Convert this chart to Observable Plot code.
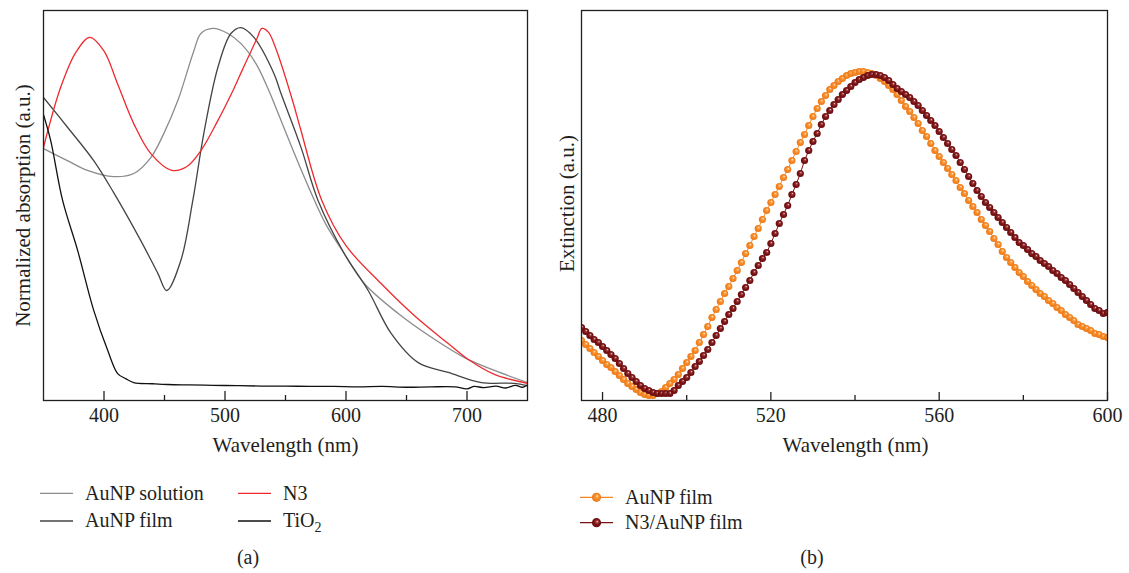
<!DOCTYPE html>
<html><head><meta charset="utf-8">
<script src="https://cdn.jsdelivr.net/npm/d3@7"></script>
<script src="https://cdn.jsdelivr.net/npm/@observablehq/plot@0.6"></script>
<style>
body{margin:0;background:#fff;}
#wrap{position:relative;width:1129px;height:573px;overflow:hidden;background:#fff;font-family:"Liberation Serif",serif;}
#pa{position:absolute;left:0;top:0;}
#pb{position:absolute;left:560px;top:0;}
</style></head>
<body><div id="wrap"><div id="pa"></div><div id="pb"></div></div>
<script>
// ---------- Panel (a) data: normalized absorption vs wavelength ----------
const solWl  = [350,369.7,386.3,408,424.6,438.7,449.5,461,474.3,480.1,490,502.4,513.2,525.6,535.5,546.3,558.7,571.1,583.5,598.5,615.1,643.2,670.6,697.9,722.7,750];
const solAbs = [0.646,0.615,0.590,0.574,0.582,0.623,0.685,0.769,0.897,0.941,0.954,0.941,0.915,0.864,0.800,0.718,0.623,0.533,0.451,0.377,0.300,0.223,0.162,0.110,0.077,0.046];

const filmWl  = [350,370,391.5,408,430.4,444.5,451.9,463.5,473.4,482.5,494.1,504.9,513.2,523.9,540.5,546.3,562.8,576.9,598.5,618.3,637.3,659.7,684.5,711.8,739.1,750];
const filmAbs = [0.777,0.700,0.615,0.533,0.410,0.326,0.282,0.359,0.513,0.685,0.854,0.941,0.956,0.931,0.838,0.787,0.649,0.513,0.377,0.282,0.172,0.097,0.072,0.046,0.044,0.038];

const n3Wl  = [350,364.2,376.6,388.2,399.8,411.1,424.6,438.7,456,468.5,480.1,493.3,507.4,514.8,521.4,526.4,530.5,536,540.5,545.5,556.3,562.1,580,600,629,656.4,684.5,701.1,722.6,750];
const n3Abs = [0.649,0.803,0.892,0.931,0.897,0.813,0.710,0.633,0.590,0.600,0.641,0.713,0.800,0.851,0.895,0.928,0.954,0.944,0.915,0.872,0.764,0.700,0.513,0.397,0.300,0.218,0.146,0.105,0.067,0.044];

const tioWl  = [350,355.9,365.8,378.2,391.5,403.1,411.3,418,424.6,440,452.7,470,490,510,530,550,570,590,610,630,650,670,690,700,706,714,724,732,740,746,750];
const tioAbs = [0.733,0.667,0.513,0.385,0.231,0.128,0.069,0.056,0.046,0.043,0.041,0.040,0.039,0.038,0.037,0.037,0.036,0.036,0.035,0.036,0.034,0.035,0.035,0.030,0.036,0.033,0.037,0.032,0.039,0.034,0.040];

const seriesA = ["AuNP solution","AuNP film","N3","TiO2"];
const colorsA = ["#8c8c8c","#444444","#ee2a2e","#111111"];
const majorA = [400,500,600,700];
const minorA = [450,550,650];

// ---------- Panel (b) data: extinction (a.u.) every 1 nm ----------
const wlB = d3.range(475, 601, 1);
const aunpFilm = [60,56,52,48,44,40,36,33,29,25,
21,17,14,11,8,6,5,5,7,9,
13,17,21,26,32,38,44,50,58,66,
74,83,91,99,107,114,122,130,138,147,
155,164,172,181,190,198,206,214,223,231,
240,249,258,266,275,284,292,299,305,311,
315,319,322,325,327,328,329,329,328,327,
325,322,319,315,311,306,300,294,289,283,
277,270,264,257,250,244,238,232,226,220,
213,207,200,194,188,181,175,169,162,156,
149,143,138,133,128,124,119,115,111,107,
104,100,97,93,90,86,83,80,76,74,
72,70,67,66,64,63];
const n3AunpFilm = [73,69,65,61,58,54,50,46,42,37,
32,27,23,19,15,12,10,8,7,7,
7,7,10,15,19,23,28,34,39,45,
51,58,65,72,79,86,92,99,106,113,
120,128,135,142,148,157,167,177,186,195,
206,216,227,240,250,259,267,276,284,290,
296,301,306,310,314,318,321,323,325,326,
326,325,323,320,316,312,309,306,303,299,
295,290,285,280,275,269,263,257,251,245,
238,231,224,217,210,204,198,193,188,183,
178,173,168,163,158,155,151,147,144,140,
137,134,130,127,123,120,116,112,108,104,
100,96,92,90,87,88];
const seriesB = ["AuNP film","N3/AuNP film"];
const colorsB = ["#f5861f","#7b1214"];
const majorB = [480,520,560,600];
const minorB = [500,540,580];

const ink = "#231f20";
const font = "'Liberation Serif', serif";

// ---------- build tables ----------
const rowsA = [
  ...solWl.map((w,i)=>({series:seriesA[0], wl:w, v:solAbs[i]})),
  ...filmWl.map((w,i)=>({series:seriesA[1], wl:w, v:filmAbs[i]})),
  ...n3Wl.map((w,i)=>({series:seriesA[2], wl:w, v:n3Abs[i]})),
  ...tioWl.map((w,i)=>({series:seriesA[3], wl:w, v:tioAbs[i]}))
];
const rowsB0 = wlB.map((w,i)=>({series:seriesB[0], wl:w, v:aunpFilm[i]}));
const rowsB1 = wlB.map((w,i)=>({series:seriesB[1], wl:w, v:n3AunpFilm[i]}));

// ---------- Panel (a) ----------
const plotA = Plot.plot({
  width: 560, height: 460,
  marginLeft: 43, marginRight: 33, marginTop: 10, marginBottom: 60,
  x: {domain: [350, 750]},
  y: {domain: [0, 1], axis: null},
  color: {domain: seriesA, range: colorsA},
  style: {fontFamily: font, fontSize: "20px", color: ink, background: "transparent", overflow: "visible"},
  marks: [
    Plot.line(rowsA, {x: "wl", y: "v", z: "series", stroke: "series", curve: "catmull-rom", strokeWidth: 1.3, clip: true}),
    Plot.frame({stroke: ink, strokeWidth: 1.3}),
    Plot.tickX(majorA, {x: d => d, insetTop: 381, stroke: ink, strokeWidth: 1.3}),
    Plot.tickX(minorA, {x: d => d, insetTop: 385, stroke: ink, strokeWidth: 1.3}),
    Plot.axisX({ticks: majorA, tickSize: 0, tickPadding: 7.5, label: null, fontSize: 20, tickFormat: d => String(d)}),
    Plot.text(["Wavelength (nm)"], {frameAnchor: "bottom", lineAnchor: "middle", dy: 45, text: d => d, fontSize: 21, fill: ink}),
    Plot.text(["Normalized absorption (a.u.)"], {frameAnchor: "left", textAnchor: "middle", lineAnchor: "middle", dx: -20.5, rotate: -90, text: d => d, fontSize: 21, fill: ink})
  ]
});
document.getElementById("pa").appendChild(plotA);

// ---------- Panel (b) ----------
const plotB = Plot.plot({
  width: 569, height: 460,
  marginLeft: 21, marginRight: 22, marginTop: 10, marginBottom: 60,
  x: {domain: [475, 600]},
  y: {domain: [0, 390], axis: null},
  style: {fontFamily: font, fontSize: "20px", color: ink, background: "transparent", overflow: "visible"},
  marks: [
    Plot.line(rowsB0, {x: "wl", y: "v", stroke: colorsB[0], strokeWidth: 1, clip: true}),
    Plot.dot(rowsB0, {x: "wl", y: "v", r: 3.6, fill: "url(#ballO)", stroke: "none", clip: true}),
    Plot.line(rowsB1, {x: "wl", y: "v", stroke: colorsB[1], strokeWidth: 1, clip: true}),
    Plot.dot(rowsB1, {x: "wl", y: "v", r: 3.6, fill: "url(#ballR)", stroke: "none", clip: true}),
    Plot.frame({stroke: ink, strokeWidth: 1.3}),
    Plot.tickX(majorB, {x: d => d, insetTop: 382, stroke: ink, strokeWidth: 1.3}),
    Plot.tickX(minorB, {x: d => d, insetTop: 385, stroke: ink, strokeWidth: 1.3}),
    Plot.axisX({ticks: majorB, tickSize: 0, tickPadding: 7.5, label: null, fontSize: 20, tickFormat: d => String(d)}),
    Plot.text(["Wavelength (nm)"], {frameAnchor: "bottom", lineAnchor: "middle", dy: 45, dx: 11, text: d => d, fontSize: 21, fill: ink}),
    Plot.text(["Extinction (a.u.)"], {frameAnchor: "left", textAnchor: "middle", lineAnchor: "middle", dx: -14, dy: -2, rotate: -90, text: d => d, fontSize: 21, fill: ink})
  ]
});
document.getElementById("pb").appendChild(plotB);

// ball gradients
const defs = d3.select(plotB).insert("defs", ":first-child");
function ball(id, hi, mid, base, edge) {
  const g = defs.append("radialGradient").attr("id", id)
    .attr("cx", "50%").attr("cy", "50%").attr("r", "55%").attr("fx", "60%").attr("fy", "35%");
  g.append("stop").attr("offset", "0%").attr("stop-color", hi);
  g.append("stop").attr("offset", "25%").attr("stop-color", mid);
  g.append("stop").attr("offset", "55%").attr("stop-color", base);
  g.append("stop").attr("offset", "100%").attr("stop-color", edge);
}
ball("ballO", "#ffe9d2", "#f9a24e", "#f5861f", "#e9761a");
ball("ballR", "#e9c9cb", "#9a3a3c", "#7b1214", "#650c0e");

// ---------- legends and panel letters ----------
const leg = d3.select("#wrap").append("svg")
  .attr("width", 1129).attr("height", 113)
  .style("position", "absolute").style("left", "0px").style("top", "460px")
  .style("font-family", font).style("font-size", "20px").attr("fill", ink);

const legA = [
  {i: 0, x: 40, y: 33.3}, {i: 1, x: 40, y: 61},
  {i: 2, x: 238, y: 33.3}, {i: 3, x: 238, y: 61}
];
legA.forEach(p => {
  leg.append("line").attr("x1", p.x).attr("x2", p.x + 33).attr("y1", p.y).attr("y2", p.y)
    .attr("stroke", colorsA[p.i]).attr("stroke-width", 1.3);
  const t = leg.append("text").attr("x", p.x + 45).attr("y", p.y + 6.2);
  if (seriesA[p.i] === "TiO2") {
    t.append("tspan").text("TiO");
    t.append("tspan").attr("font-size", "14px").attr("dy", 5).text("2");
  } else t.text(seriesA[p.i]);
});
const legB = [{i: 0, y: 37.3}, {i: 1, y: 62.7}];
legB.forEach(p => {
  leg.append("line").attr("x1", 580).attr("x2", 613).attr("y1", p.y).attr("y2", p.y)
    .attr("stroke", colorsB[p.i]).attr("stroke-width", 1.2);
  leg.append("circle").attr("cx", 596.5).attr("cy", p.y).attr("r", 4.6)
    .attr("fill", p.i === 0 ? "url(#ballO)" : "url(#ballR)");
  leg.append("text").attr("x", 625).attr("y", p.y + 6.2).text(seriesB[p.i]);
});
leg.append("text").attr("x", 248).attr("y", 104).attr("text-anchor", "middle").text("(a)");
leg.append("text").attr("x", 812).attr("y", 104).attr("text-anchor", "middle").text("(b)");
</script>
</body></html>
